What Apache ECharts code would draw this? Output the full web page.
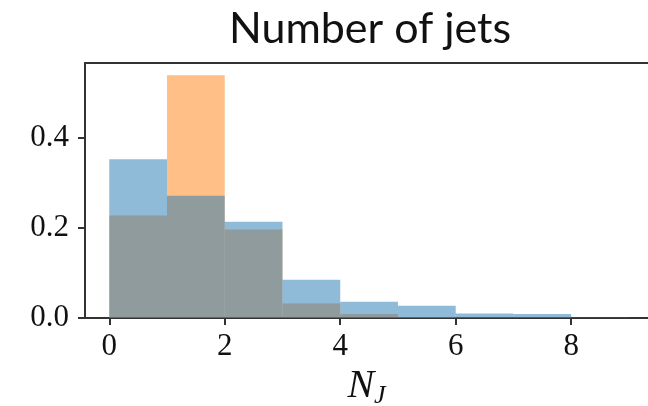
<!DOCTYPE html>
<html>
<head>
<meta charset="utf-8">
<script src="https://cdn.jsdelivr.net/npm/echarts@6/dist/echarts.min.js"></script>
<style>
  html, body { margin: 0; padding: 0; background: #fff; }
  #chart { width: 648px; height: 406px; }
</style>
</head>
<body>
<div id="chart"></div>
<script>
// histogram bins (left edge, right edge)
var binStart = [0, 1, 2, 3, 4, 5, 6, 7, 8];
var binEnd = [1, 2, 3, 4, 5, 6, 7, 8, 9];
// normalised counts
var blueValues = [0.353, 0.272, 0.214, 0.085, 0.036, 0.027, 0.010, 0.009, 0.001];
var orangeValues = [0.228, 0.540, 0.197, 0.032, 0.009, 0.002, 0.001, 0.001, 0.000];
var xTicks = [0, 2, 4, 6, 8];
var yTicks = [0, 0.2, 0.4];

var axisColor = '#333';
var serif = '"Liberation Serif", "DejaVu Serif", serif';

function toRows(values) {
    var rows = [];
    for (var i = 0; i < values.length; i++) rows.push([binStart[i], binEnd[i], values[i]]);
    return rows;
}

function histItem(fill) {
    return function (params, api) {
        var topLeft = api.coord([api.value(0), api.value(2)]);
        var bottomRight = api.coord([api.value(1), 0]);
        return {
            type: 'rect',
            shape: { x: topLeft[0], y: topLeft[1], width: bottomRight[0] - topLeft[0], height: bottomRight[1] - topLeft[1] },
            style: { fill: fill }
        };
    };
}

var chart = echarts.init(document.getElementById('chart'));
chart.setOption({
    animation: false,
    title: {
        text: 'Number of jets',
        left: 224,
        top: 3,
        textStyle: { fontFamily: 'Lato, "Open Sans", sans-serif', fontWeight: 'normal', fontSize: 43, color: '#111' }
    },
    grid: { left: 85, top: 63, right: 0, bottom: 88, outerBoundsMode: 'none', containLabel: false },
    xAxis: [{
        type: 'value', min: -0.42, max: 9.33,
        axisLine: { show: true, onZero: false, lineStyle: { color: axisColor, width: 2 } },
        axisTick: { show: true, length: 7, customValues: xTicks, lineStyle: { color: axisColor, width: 2 } },
        axisLabel: { customValues: xTicks, color: '#111', fontFamily: serif, fontSize: 31, margin: 13 },
        splitLine: { show: false },
        name: '{n|N}{j|J}',
        nameLocation: 'middle',
        nameGap: 45,
        nameTextStyle: {
            rich: {
                n: { fontFamily: serif, fontStyle: 'italic', fontSize: 40, color: '#111' },
                j: { fontFamily: serif, fontStyle: 'italic', fontSize: 26, color: '#111', padding: [18, 0, 0, 0] }
            }
        }
    }, {
        type: 'value', min: -0.42, max: 9.33, position: 'top',
        axisLine: { show: true, onZero: false, lineStyle: { color: axisColor, width: 2 } },
        axisTick: { show: false }, axisLabel: { show: false }, splitLine: { show: false }
    }],
    yAxis: {
        type: 'value', min: 0, max: 0.567,
        axisLine: { show: true, onZero: false, lineStyle: { color: axisColor, width: 2 } },
        axisTick: { show: true, length: 7, customValues: yTicks, lineStyle: { color: axisColor, width: 2 } },
        axisLabel: { customValues: yTicks, color: '#111', fontFamily: serif, fontSize: 31, margin: 16, formatter: function (v) { return v.toFixed(1); } },
        splitLine: { show: false }
    },
    series: [
        { type: 'custom', name: 'orange', renderItem: histItem('rgba(255,127,14,0.5)'), encode: { x: [0, 1], y: 2 }, data: toRows(orangeValues) },
        { type: 'custom', name: 'blue', renderItem: histItem('rgba(31,119,180,0.5)'), encode: { x: [0, 1], y: 2 }, data: toRows(blueValues) }
    ]
});
</script>
</body>
</html>
